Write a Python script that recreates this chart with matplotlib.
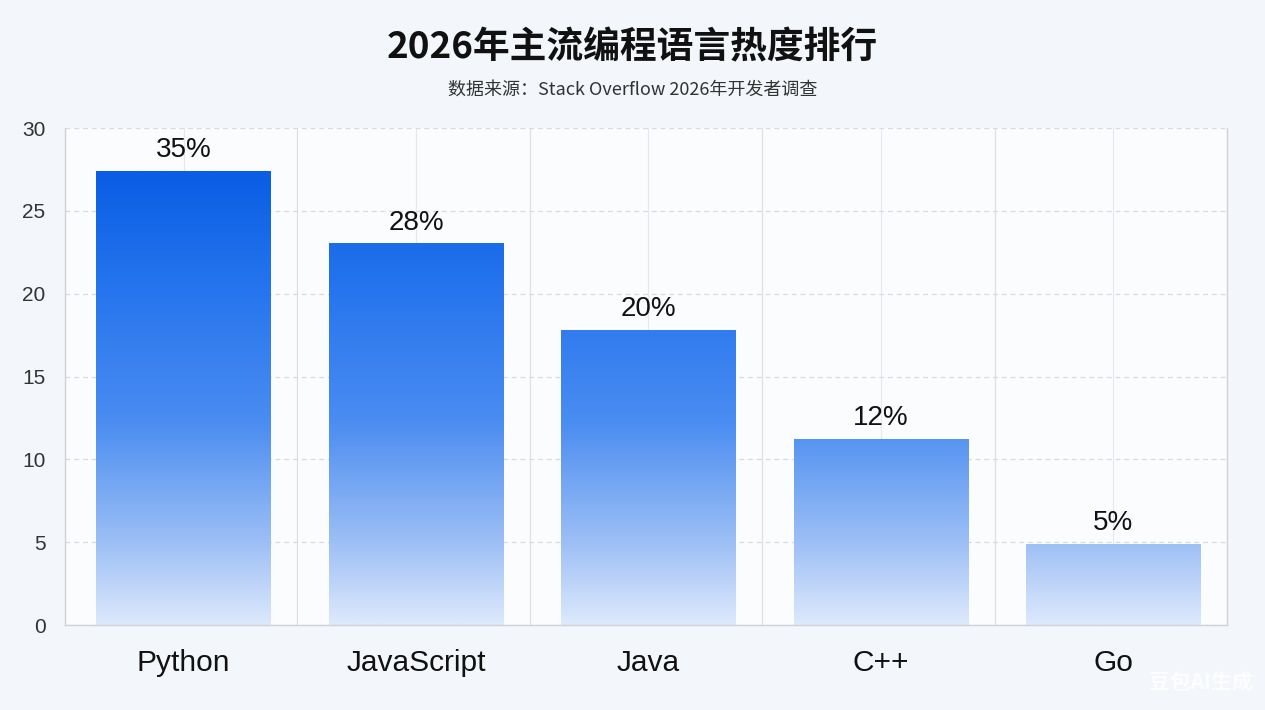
import numpy as np
import matplotlib
matplotlib.use("Agg")
from matplotlib import pyplot as plt
from matplotlib.colors import LinearSegmentedColormap, Normalize

plt.rcParams['font.family'] = ['Liberation Sans', 'Noto Sans CJK SC', 'DejaVu Sans']

title = "2026年主流编程语言热度排行"
subtitle = "数据来源：Stack Overflow 2026年开发者调查"
languages = ["Python", "JavaScript", "Java", "C++", "Go"]
heights = [27.4, 23.0, 17.8, 11.2, 4.85]
share_labels = ["35%", "28%", "20%", "12%", "5%"]
y_ticks = [0, 5, 10, 15, 20, 25, 30]

cmap = LinearSegmentedColormap.from_list(
    "bars", [(0.0, "#dde9fc"), (0.18, "#9dbff5"), (0.45, "#4a8cf1"), (0.75, "#2574ee"), (1.0, "#0a5de4")])
norm = Normalize(0, max(heights))

fig = plt.figure(figsize=(12.65, 7.1), dpi=100, facecolor="#f3f6fa")
ax = fig.add_axes([0.0514, 0.1197, 0.9186, 0.70])
ax.set_facecolor("#fbfcfe")

width = 0.75
x = np.arange(len(languages))
for xi, h, lab in zip(x, heights, share_labels):
    vals = np.linspace(0, h, 256).reshape(-1, 1)
    x0 = xi + 0.01
    ax.imshow(vals, cmap=cmap, norm=norm, origin="lower", aspect="auto",
              extent=[x0 - width / 2, x0 + width / 2, 0, h], zorder=2, interpolation="bilinear")
    ax.text(x0, h + 0.5, lab, ha="center", va="bottom", fontsize=20, color="#111111", zorder=3)

ax.set_xlim(-0.5, len(languages) - 0.5)
ax.set_ylim(0, 30)
ax.set_xticks(x + 0.01)
ax.set_xticklabels(languages, fontsize=21.5, color="#111111")
ax.set_yticks(y_ticks)
ax.set_yticklabels([str(v) for v in y_ticks], fontsize=15, color="#333333")
ax.tick_params(length=0)
ax.tick_params(axis="x", pad=17)
ax.tick_params(axis="y", pad=14)

ax.set_xticks(np.arange(len(languages) + 1) - 0.5, minor=True)
ax.grid(axis="y", color="#d8dce2", linestyle=(0, (4, 3)), linewidth=0.9, zorder=0)
ax.grid(axis="x", which="major", color="#e6e8ec", linestyle="-", linewidth=0.8, zorder=0)
ax.grid(axis="x", which="minor", color="#dcdfe4", linestyle="-", linewidth=0.9, zorder=0)
ax.tick_params(which="minor", length=0)

for side in ["left", "bottom", "right"]:
    ax.spines[side].set_color("#cfd2d6")
    ax.spines[side].set_linewidth(1.0)
ax.spines["top"].set_visible(False)

fig.text(0.5, 0.932, title, ha="center", va="center", fontsize=26.5, fontweight="bold",
         family=["Noto Sans CJK SC", "DejaVu Sans"], color="#111111")
fig.text(0.5, 0.874, subtitle, ha="center", va="center", fontsize=13,
         family=["Noto Sans CJK SC", "DejaVu Sans"], color="#333333")
fig.text(0.99, 0.038, "豆包AI生成", ha="right", va="center", fontsize=15, fontweight="bold",
         family=["Noto Sans CJK SC", "DejaVu Sans"], color="white", alpha=0.85)

fig.savefig("out.png", dpi=100, facecolor=fig.get_facecolor())
